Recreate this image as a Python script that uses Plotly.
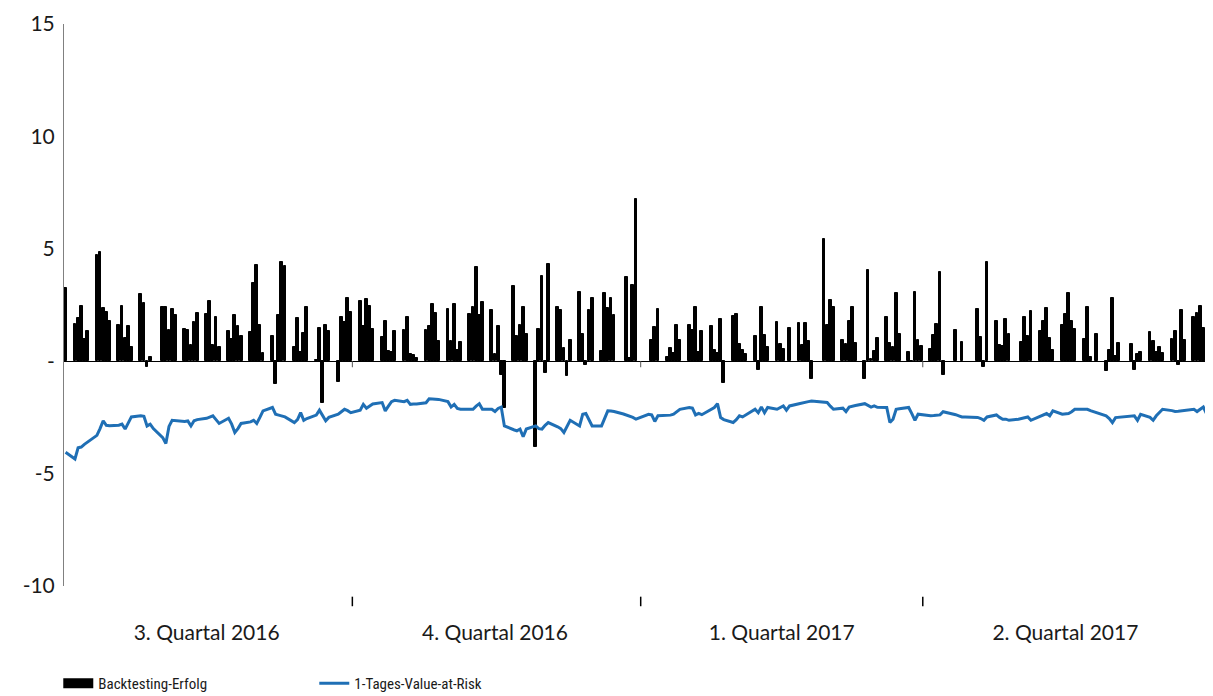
import pandas as pd
import plotly.graph_objects as go

# ---- data -------------------------------------------------------------
trading_days = pd.bdate_range("2016-07-01", "2017-06-30")  # Mon-Fri

# Backtesting-Erfolg (Mio. EUR), one value per weekday, None = no result (holiday)
backtesting = [
    3.27,
    1.67, 1.92, 2.46, 0.99, 1.36,
    4.72, 4.84, 2.36, 2.18, 1.80,
    1.62, 2.46, 1.03, 1.55, 0.62,
    2.99, 2.60, -0.28, 0.20, None,
    2.43, 2.40, 1.40, 2.32, 2.04,
    1.43, 1.40, 0.72, 1.75, 2.14,
    2.10, 2.68, 0.74, 1.95, 0.62,
    1.36, 0.99, 2.06, 1.58, 1.10,
    1.28, 3.50, 4.30, 1.60, 0.37,
    1.14, -1.00, 2.04, 4.42, 4.23,
    0.62, 1.92, 0.41, 1.25, 2.40,
    0.07, 1.47, -1.84, 1.59, 1.36,
    -0.93, 1.96, 1.73, 2.80, 2.21,
    2.68, 1.58, 2.77, 2.46, 1.43,
    1.08, 1.80, 0.44, 0.41, 1.33,
    1.37, 1.96, 0.32, 0.27, 0.15,
    1.37, 1.58, 2.55, 2.14, 0.88,
    2.32, 0.88, 2.54, 0.50, 0.86,
    2.11, 2.39, 4.19, 2.04, 2.65,
    2.27, 0.30, 1.55, -0.63, -2.09,
    3.35, 1.10, 1.62, 2.42, 1.21,
    -3.83, 1.45, 3.80, -0.52, 4.34,
    2.43, 2.26, 0.59, -0.66, 0.96,
    3.10, 1.21, -0.19, 2.26, 2.83,
    0.47, 3.02, 2.36, 2.83, 2.04,
    None, 3.76, 0.15, 3.39, 7.23,
    None, None, 0.96, 1.50, 2.32,
    0.18, 0.59, 0.37, 1.59, 0.96,
    1.62, 1.40, 2.39, 0.40, 1.33,
    1.55, 0.52, 0.37, 1.87, -0.96,
    1.99, 2.10, 0.77, 0.52, 0.30,
    1.14, -0.37, 2.39, 1.18, 0.62,
    1.73, 0.77, 0.55, None, 1.47,
    1.70, 0.70, 1.70, 0.90, -0.77,
    None, 5.43, 1.59, 2.73, 2.40,
    0.96, 0.77, 1.81, 2.42, 0.81,
    -0.77, 4.06, 0.10, 0.47, 1.03,
    1.96, 0.81, 0.62, 3.02, 1.21,
    0.40, -0.05, 3.07, 0.96, 0.66,
    0.55, 1.18, 1.67, 3.98, -0.63,
    None, 1.40, None, 0.86, None,
    None, 2.32, 1.06, -0.25, 4.42,
    1.77, 0.71, 0.68, 1.89, 1.21,
    None, 0.84, 1.95, 1.14, 2.24,
    1.36, 1.77, 2.36, 1.03, 0.49,
    1.62, 2.11, 3.02, 1.80, 1.43,
    1.00, 2.39, 0.18, None, 1.21,
    -0.44, 0.52, 2.83, 0.22, 0.81,
    None, 0.77, -0.41, 0.32, 0.40,
    1.30, 0.88, 0.40, 0.62, 0.37,
    1.00, 1.33, -0.15, 2.26, 0.96,
    1.95, 2.14, 2.46, 1.47, 0.88,
]

# 1-Tages-Value-at-Risk, one value per weekday
value_at_risk = [
    -4.05,
    -4.35, -3.85, -3.82, -3.70, -3.60,
    -3.30, -3.00, -2.65, -2.85, -2.87,
    -2.85, -2.80, -3.02, -2.75, -2.48,
    -2.43, -2.45, -2.88, -2.80, -3.00,
    -3.40, -3.66, -2.90, -2.63, -2.65,
    -2.68, -2.66, -2.88, -2.65, -2.60,
    -2.54, -2.48, -2.43, -2.60, -2.77,
    -2.54, -2.80, -3.17, -3.00, -2.77,
    -2.70, -2.63, -2.77, -2.50, -2.21,
    -2.06, -2.36, -2.40, -2.45, -2.48,
    -2.73, -2.60, -2.29, -2.63, -2.55,
    -2.40, -2.18, -2.40, -2.65, -2.50,
    -2.36, -2.25, -2.14, -2.20, -2.29,
    -2.18, -1.92, -2.09, -2.00, -1.90,
    -1.84, -2.21, -2.00, -1.80, -1.74,
    -1.80, -1.74, -1.92, -1.90, -1.90,
    -1.85, -1.67, -1.68, -1.70, -1.70,
    -1.80, -2.04, -1.92, -2.10, -2.14,
    -2.14, -2.14, -2.00, -1.89, -2.14,
    -2.14, -2.24, -2.10, -2.04, -2.88,
    -3.05, -3.10, -3.02, -3.36, -3.02,
    -2.88, -3.00, -3.02, -2.85, -2.73,
    -2.92, -3.00, -3.17, -2.90, -2.63,
    -2.88, -2.36, -2.33, -2.60, -2.88,
    -2.88, -2.55, -2.21, -2.22, -2.24,
    -2.35, -2.39, -2.43, -2.50, -2.58,
    -2.43, -2.36, -2.39, -2.68, -2.43,
    -2.43, -2.40, -2.36, -2.25, -2.14,
    -2.06, -2.09, -2.39, -2.32, -2.38,
    -2.14, -2.06, -1.89, -2.51, -2.60,
    -2.73, -2.60, -2.43, -2.48, -2.40,
    -2.14, -2.29, -2.04, -2.29, -2.06,
    -2.14, -2.05, -1.99, -2.18, -1.99,
    -1.89, -1.85, -1.82, -1.80, -1.77,
    -1.80, -1.82, -1.84, -2.00, -2.14,
    -2.09, -2.24, -2.04, -2.00, -1.97,
    -1.89, -1.95, -2.04, -1.99, -2.05,
    -2.06, -2.73, -2.58, -2.14, -2.12,
    -2.06, -2.33, -2.63, -2.36, -2.38,
    -2.43, -2.42, -2.40, -2.39, -2.25,
    -2.33, -2.38, -2.43, -2.48, -2.48,
    -2.48, -2.50, -2.55, -2.63, -2.48,
    -2.39, -2.50, -2.58, -2.58, -2.63,
    -2.58, -2.55, -2.50, -2.48, -2.63,
    -2.43, -2.38, -2.33, -2.43, -2.21,
    -2.36, -2.34, -2.33, -2.25, -2.14,
    -2.14, -2.14, -2.20, -2.25, -2.29,
    -2.43, -2.55, -2.73, -2.51, -2.50,
    -2.48, -2.46, -2.43, -2.63, -2.36,
    -2.50, -2.63, -2.43, -2.30, -2.14,
    -2.20, -2.24, -2.23, -2.21, -2.20,
    -2.14, -2.24, -2.14, -2.04, -2.33,
]

quarter_labels = ["3. Quartal 2016", "4. Quartal 2016", "1. Quartal 2017", "2. Quartal 2017"]
quarter_mids = ["2016-08-15 12:00", "2016-11-15 12:00", "2017-02-15 00:00", "2017-05-16 12:00"]
quarter_bounds = ["2016-10-01", "2017-01-01", "2017-04-01"]

y_ticks = [-10, -5, 0, 5, 10, 15]
y_ticktext = ["-10", "-5", "-", "5", "10", "15"]

# ---- figure -----------------------------------------------------------
x = trading_days + pd.Timedelta(hours=12)
DAY_MS = 86400000

TEXT = "#1a1a1a"
MAIN_FONT = "Lato, 'Open Sans', sans-serif"
NARROW_FONT = "'Liberation Sans Narrow', 'Roboto Condensed', 'Liberation Sans', sans-serif"

fig = go.Figure()
fig.add_bar(
    x=x, y=backtesting, name="Backtesting-Erfolg",
    legendgroup="bt", showlegend=False,
    width=0.9 * DAY_MS,
    marker=dict(color="black", line=dict(color="black", width=1)),
)
# legend entry for the bars, drawn as a wide black block like the original
fig.add_scatter(
    x=[None], y=[None], mode="lines", name="Backtesting-Erfolg",
    legendgroup="bt", line=dict(color="black", width=12), hoverinfo="skip",
)
fig.add_scatter(
    x=x, y=value_at_risk, mode="lines", name="1-Tages-Value-at-Risk",
    line=dict(color="#1f6fb5", width=3),
)

shapes = []
for b in quarter_bounds:
    shapes.append(dict(type="line", xref="x", yref="paper", x0=b, x1=b,
                       y0=-0.019, y1=-0.036, line=dict(color="black", width=1.5)))
    shapes.append(dict(type="line", xref="x", yref="y", x0=b, x1=b,
                       y0=0, y1=-0.27, line=dict(color="#555555", width=1)))

fig.update_layout(
    width=1213, height=696,
    margin=dict(l=56, r=13, t=16, b=118, autoexpand=False),
    paper_bgcolor="white", plot_bgcolor="white",
    font=dict(family=MAIN_FONT, color=TEXT, size=21),
    bargap=0,
    showlegend=True,
    legend=dict(orientation="h", x=-0.005, xanchor="left", y=-0.144, yanchor="top",
                font=dict(family=NARROW_FONT, size=15, color=TEXT),
                entrywidth=211, entrywidthmode="pixels",
                bgcolor="rgba(0,0,0,0)", traceorder="normal"),
    shapes=shapes,
    xaxis=dict(type="date", range=["2016-07-01", "2017-07-01"], automargin=False,
               tickvals=quarter_mids, ticktext=quarter_labels,
               ticks="", showgrid=False, showline=False, zeroline=False,
               tickfont=dict(size=21, color=TEXT), ticklabelstandoff=32),
    yaxis=dict(range=[-10.002, 15.002], tickvals=y_ticks, ticktext=y_ticktext, automargin=False,
               ticklabeloverflow="allow",
               showgrid=False, showline=True, linecolor="#808080", linewidth=1,
               zeroline=True, zerolinecolor="black", zerolinewidth=1,
               ticks="", tickfont=dict(size=21, color=TEXT), ticklabelstandoff=4),
)

fig.write_html("out.html")
